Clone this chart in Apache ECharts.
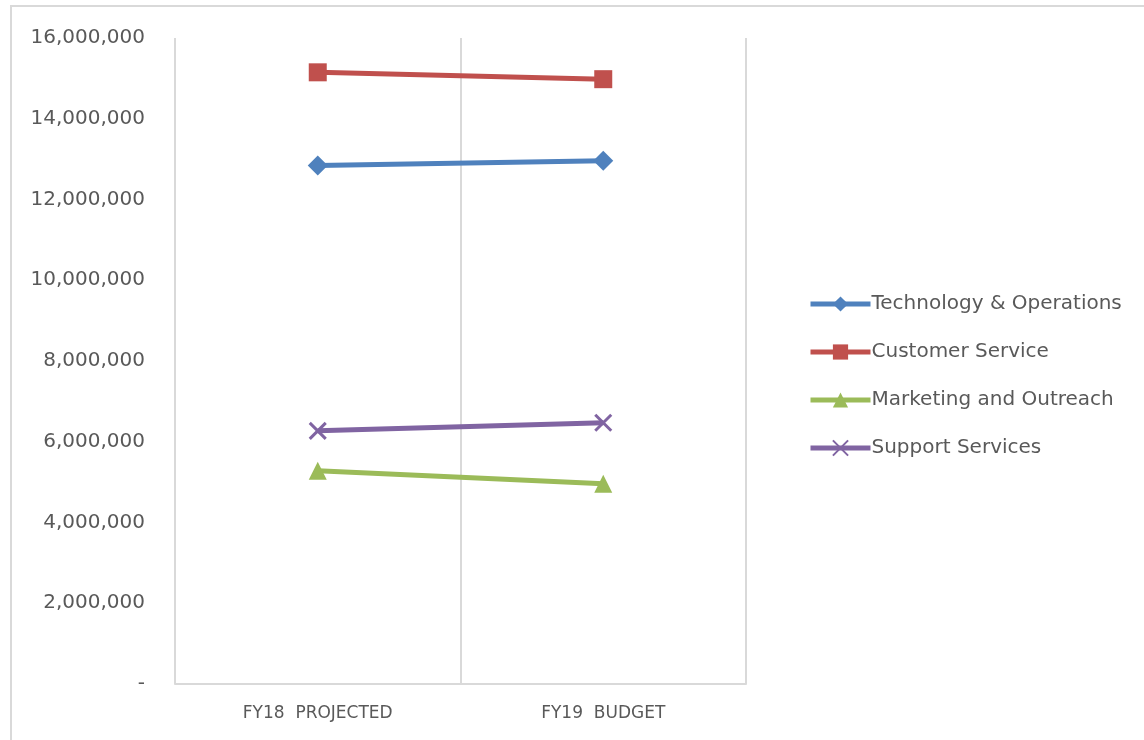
<!DOCTYPE html>
<html>
<head>
<meta charset="utf-8">
<script src="https://cdn.jsdelivr.net/npm/echarts@6/dist/echarts.min.js"></script>
<style>
  html, body { margin: 0; padding: 0; background: #fff; }
  #ec { width: 1144px; height: 740px; }
</style>
</head>
<body>
<div id="ec"></div>
<script>
var categories = ['FY18  PROJECTED', 'FY19  BUDGET'];
var techOps = [12840000, 12960000];
var customerService = [15150000, 14980000];
var marketing = [5280000, 4960000];
var supportServices = [6270000, 6470000];
var yTicks = [0, 2000000, 4000000, 6000000, 8000000, 10000000, 12000000, 14000000, 16000000];

var txt = '#595959';
var font = '"DejaVu Sans", sans-serif';
var crossPath = 'path://M0,0 L10,10 M10,0 L0,10';

function fmt(v) {
  if (v === 0) return '-';
  return v.toString().replace(/\B(?=(\d{3})+(?!\d))/g, ',');
}

function mkSeries(name, data, color, symbol, size, extra) {
  var s = {
    name: name,
    type: 'line',
    data: data,
    symbol: symbol,
    symbolSize: size,
    lineStyle: { color: color, width: 5 },
    itemStyle: { color: color },
    emphasis: { disabled: true },
    z: 3
  };
  if (extra) s.itemStyle = extra;
  return s;
}

var myEchart = echarts.init(document.getElementById('ec'));
myEchart.setOption({
  animation: false,
  textStyle: { fontFamily: font },
  graphic: [{
    type: 'rect',
    shape: { x: 11, y: 6, width: 1200, height: 800 },
    style: { fill: 'none', stroke: '#d9d9d9', lineWidth: 2 },
    silent: true
  }],
  grid: { left: 175, right: 398, top: 38, bottom: 56 },
  legend: {
    orient: 'vertical',
    left: 803,
    top: 289,
    itemWidth: 60,
    itemHeight: 19,
    itemGap: 28,
    lineStyle: { width: 5 },
    textStyle: { color: txt, fontSize: 20, fontFamily: font, padding: [0, 0, 0, -4] },
    data: ['Technology & Operations', 'Customer Service', 'Marketing and Outreach', 'Support Services']
  },
  xAxis: {
    type: 'category',
    data: categories,
    boundaryGap: true,
    axisLine: { lineStyle: { color: '#d9d9d9', width: 2 } },
    axisTick: { show: false },
    splitLine: { show: true, lineStyle: { color: '#d9d9d9', width: 2 } },
    axisLabel: { color: txt, fontSize: 17, fontFamily: font, margin: 21 }
  },
  yAxis: {
    type: 'value',
    min: 0,
    max: 16000000,
    interval: 2000000,
    axisLine: { show: false },
    axisTick: { show: false },
    splitLine: { show: false },
    axisLabel: {
      color: txt, fontSize: 20, fontFamily: font, margin: 30,
      formatter: function (v) { return yTicks.indexOf(v) >= 0 ? fmt(v) : ''; }
    }
  },
  series: [
    mkSeries('Technology & Operations', techOps, '#4F81BD', 'diamond', 20),
    mkSeries('Customer Service', customerService, '#C0504D', 'rect', 18),
    mkSeries('Marketing and Outreach', marketing, '#9BBB59', 'triangle', 18),
    mkSeries('Support Services', supportServices, '#8064A2', crossPath, 16,
      { color: '#8064A2', borderColor: '#8064A2', borderWidth: 3 })
  ]
});
</script>
</body>
</html>
